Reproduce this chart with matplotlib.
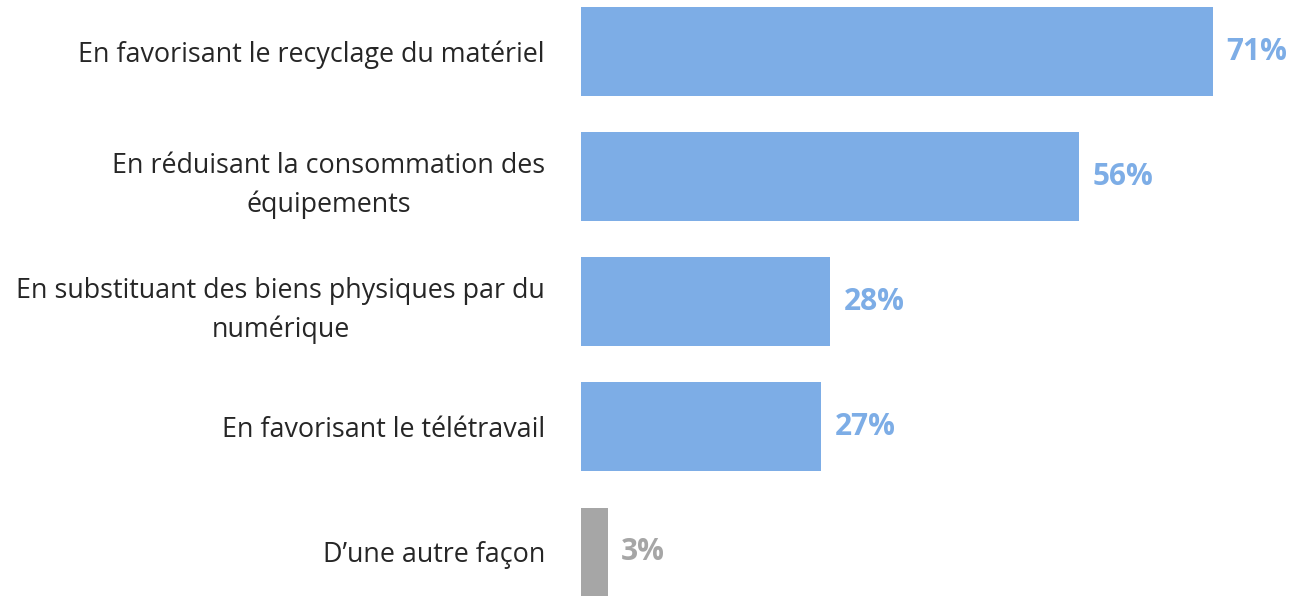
import matplotlib.pyplot as plt
import numpy as np

categories = [
    "En favorisant le recyclage du matériel",
    "En réduisant la consommation des\néquipements",
    "En substituant des biens physiques par du\nnumérique",
    "En favorisant le télétravail",
    "D\u2019une autre façon",
]
values = [71, 56, 28, 27, 3]
colors = ["#7DADE6", "#7DADE6", "#7DADE6", "#7DADE6", "#A6A6A6"]
label_colors = ["#7DADE6", "#7DADE6", "#7DADE6", "#7DADE6", "#A6A6A6"]

plt.rcParams['font.family'] = ['Open Sans', 'DejaVu Sans']

fig = plt.figure(figsize=(13.06, 5.96), dpi=100)
ax = fig.add_axes([581 / 1306, 0, 1 - 581 / 1306, 1])

y = np.arange(len(categories))
ax.barh(y, values, height=0.71, color=colors)

# echelle : 71% -> x=1213 px
ax.set_xlim(0, 71 * (1306 - 581) / (1213 - 581))
ax.set_ylim(4.352, -0.412)

for yi, v, c in zip(y, values, label_colors):
    ax.annotate(f"{v}%", (v, yi), xytext=(9.5, 0), textcoords="offset points",
                va="center", ha="left", fontsize=21.5, fontweight="bold", color=c)

ax.set_yticks(y)
ax.set_yticklabels(categories, fontsize=19.4, color="#262626",
                   multialignment="center", linespacing=1.5)
ax.tick_params(axis="y", length=0, pad=26)
ax.set_xticks([])
for s in ax.spines.values():
    s.set_visible(False)

fig.savefig("out.png", dpi=100)
